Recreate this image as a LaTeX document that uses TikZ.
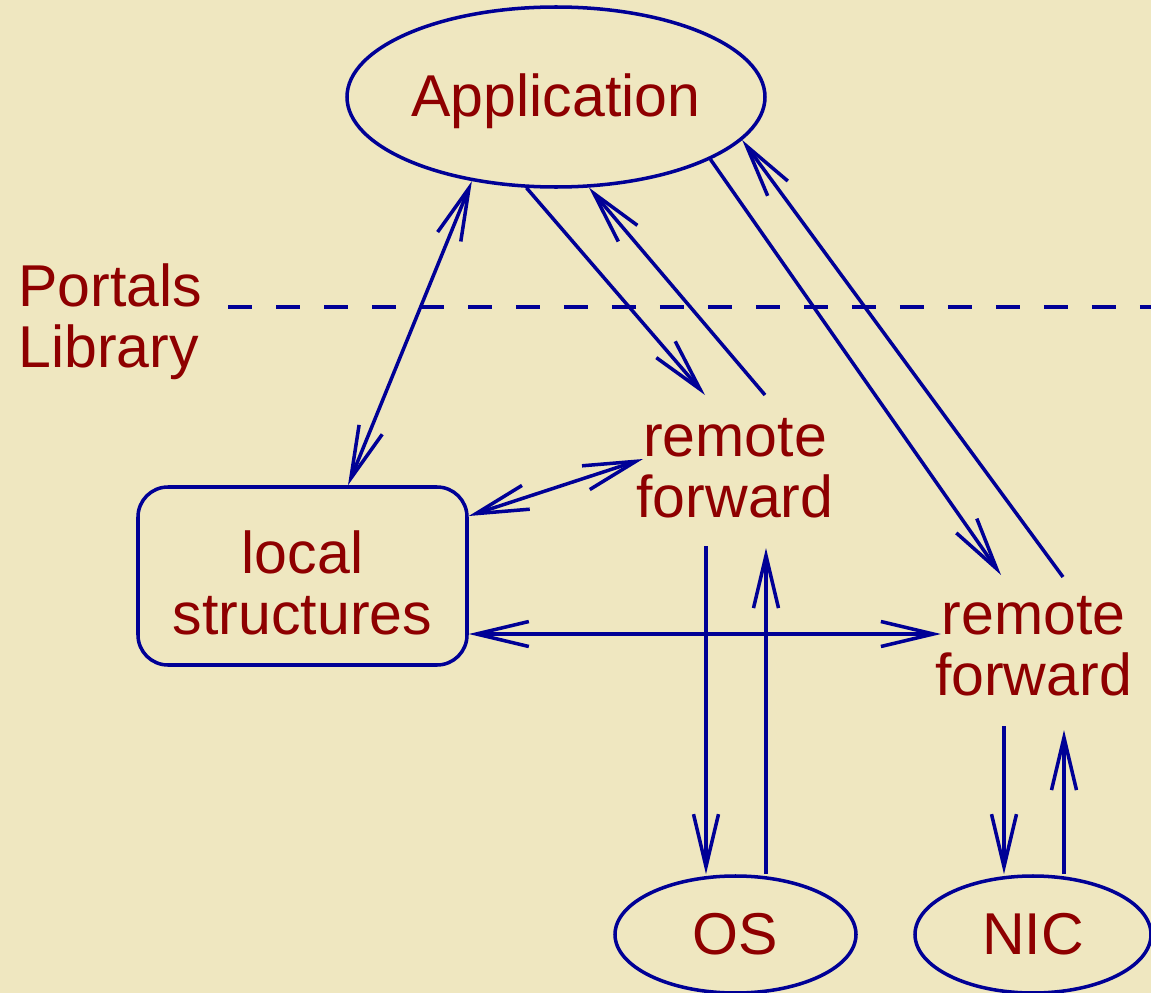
\documentclass[tikz,border=0pt]{standalone}
\usepackage{fontspec}
\setmainfont{Liberation Sans}
\usetikzlibrary{arrows.meta,shapes.geometric}
\definecolor{bg}{RGB}{239,231,192}
\definecolor{txt}{RGB}{142,0,0}
\definecolor{ln}{RGB}{0,0,150}
\begin{document}
\begin{tikzpicture}[
  every node/.style={text=txt, font=\fontsize{33.6}{34.6}\selectfont, inner sep=0pt},
  oval/.style={draw=ln, line width=2pt, ellipse},
  box/.style={draw=ln, line width=2pt, rounded corners=0.6cm, minimum width=6.58cm, minimum height=3.56cm},
  lbl/.style={align=center},
  barb/.tip={Straight Barb[length=1.05cm,width=0.5cm]},
  arr/.style={draw=ln, line width=2pt, -barb},
  darr/.style={draw=ln, line width=2pt, barb-barb},
  sep/.style={draw=ln, line width=2pt, dash pattern=on 0.48cm off 0.48cm},
]
\fill[bg] (0,0) rectangle (23.02,-19.86);
\useasboundingbox (0,0) rectangle (23.02,-19.86);

\node[oval, minimum width=8.36cm, minimum height=3.6cm] (app) at (11.12,-1.94) {\raisebox{-0.09cm}[\height][\depth]{Application}};
\node[align=left, anchor=west] (portals) at (0.36,-6.44) {Portals\\Library};
\coordinate (dashL) at (4.56,-6.14);
\coordinate (dashR) at (23.02,-6.14);
\draw[sep] (dashL) -- (dashR);

\node[box] (loc) at (6.05,-11.52) {};
\node[lbl] (loct) at ([yshift=-0.13cm]loc.center) {local\\structures};
\node[lbl] (rf1) at (14.7,-9.36) {remote\\forward};
\node[lbl] (rf2) at (20.67,-12.93) {remote\\forward};
\node[oval, minimum width=4.82cm, minimum height=2.34cm] (os) at (14.71,-18.69) {OS};
\node[oval, minimum width=4.72cm, minimum height=2.34cm] (nic) at (20.66,-18.69) {NIC};

% application <-> local structures
\draw[darr] (app.225) -- ([xshift=0.91cm]loc.north);
% application <-> remote forward 1
\draw[arr] (app.252) -- ([shift={(-0.6,1.46)}]rf1.center);
\draw[arr] ([shift={(0.6,1.46)}]rf1.center) -- (app.290);
% application <-> remote forward 2
\draw[arr] (app.338) -- ([shift={(-0.65,1.43)}]rf2.center);
\draw[arr] ([shift={(0.59,1.39)}]rf2.center) -- (app.347);
% local structures <-> remote forwards
\draw[darr] ([yshift=1.2cm]loc.east) -- ([shift={(-1.84,0.18)}]rf1.center);
\draw[darr] ([yshift=-1.16cm]loc.east) -- ([shift={(-1.85,0.25)}]rf2.center);
% remote forward 1 <-> OS
\coordinate (d1) at ([shift={(-0.58,-1.56)}]rf1.center);
\coordinate (u1) at ([shift={(0.62,-1.6)}]rf1.center);
\draw[arr] (d1) -- (d1 |- os.north);
\draw[arr] (u1 |- os.north) -- (u1);
% remote forward 2 <-> NIC
\coordinate (d2) at ([shift={(-0.59,-1.59)}]rf2.center);
\coordinate (u2) at ([shift={(0.61,-1.67)}]rf2.center);
\draw[arr] (d2) -- (d2 |- nic.north);
\draw[arr] (u2 |- nic.north) -- (u2);
\end{tikzpicture}
\end{document}
